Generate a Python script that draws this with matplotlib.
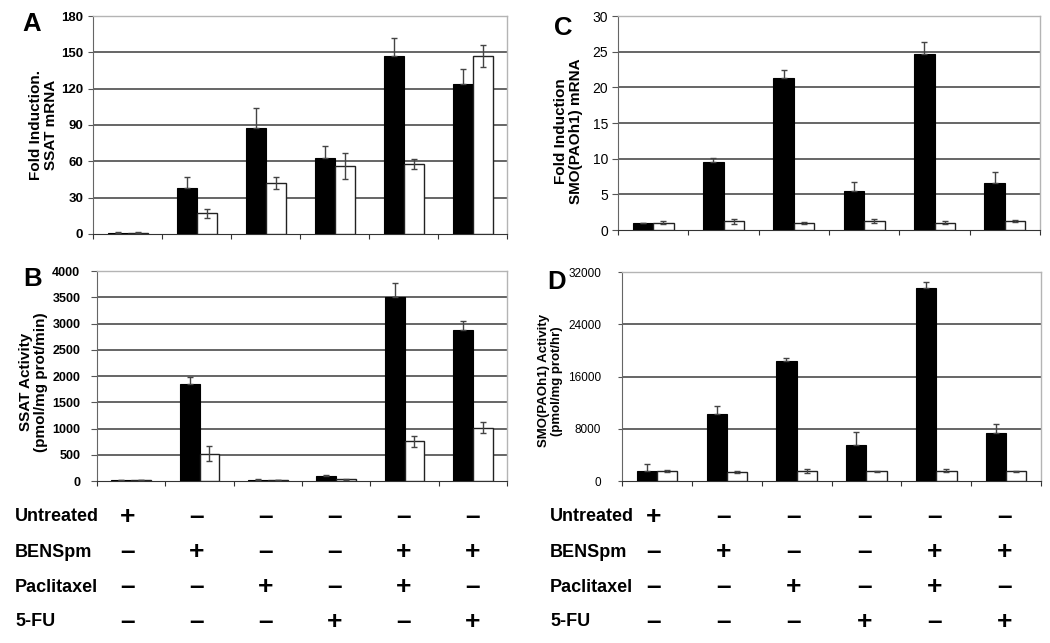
import numpy as np
import matplotlib
matplotlib.use('Agg')
import matplotlib.pyplot as plt
import matplotlib.transforms as mtransforms

plt.rcParams['font.family'] = ['Liberation Sans', 'DejaVu Sans']

# data (black = first series, white = second series)
A_black = [1, 38, 87.5, 62.7, 147, 123.8]
A_black_err = [0.3, 9, 16.3, 10, 14.6, 12.7]
A_white = [1, 17, 42, 56, 58, 147]
A_white_err = [0.3, 3.5, 4.8, 10.5, 4.3, 9]

B_black = [15, 1840, 25, 102, 3500, 2870]
B_black_err = [5, 146, 5, 10, 280, 185]
B_white = [20, 520, 20, 32, 756, 1016]
B_white_err = [5, 140, 5, 8, 100, 110]

C_black = [1.0, 9.47, 21.3, 5.41, 24.7, 6.58]
C_black_err = [0.05, 0.6, 1.15, 1.25, 1.7, 1.5]
C_white = [1.0, 1.26, 0.98, 1.3, 1.03, 1.3]
C_white_err = [0.2, 0.35, 0.15, 0.25, 0.25, 0.12]

D_black = [1480, 10260, 18380, 5560, 29550, 7300]
D_black_err = [1100, 1225, 510, 1890, 970, 1380]
D_white = [1580, 1430, 1580, 1480, 1580, 1480]
D_white_err = [150, 150, 300, 100, 200, 100]

treat_names = ['Untreated', 'BENSpm', 'Paclitaxel', '5-FU']
treat_signs = [['+', '-', '-', '-', '-', '-'],
               ['-', '+', '-', '-', '+', '+'],
               ['-', '-', '+', '-', '+', '-'],
               ['-', '-', '-', '+', '-', '+']]

A_ticks = [0, 30, 60, 90, 120, 150, 180]
B_ticks = [0, 500, 1000, 1500, 2000, 2500, 3000, 3500, 4000]
C_ticks = [0, 5, 10, 15, 20, 25, 30]
D_ticks = [0, 8000, 16000, 24000, 32000]

fig = plt.figure(figsize=(10.5, 6.43), dpi=100)

axA = fig.add_axes([0.0886, 0.6361, 0.3943, 0.339])
axB = fig.add_axes([0.0924, 0.2519, 0.3905, 0.3266])
axC = fig.add_axes([0.5886, 0.6423, 0.4019, 0.3328])
axD = fig.add_axes([0.5924, 0.2519, 0.3991, 0.325])

w = 0.29


def panel(ax, blk, blk_e, wht, wht_e, ticks, bold, tsize, tlen, tpad,
          ylab, lsize, lx, ly):
    x = np.arange(len(blk))
    ax.bar(x - w/2, blk, w, color='black', edgecolor='black', linewidth=0.8, zorder=3)
    ax.bar(x + w/2, wht, w, color='white', edgecolor='#222222', linewidth=1.0, zorder=3)
    ax.errorbar(x - w/2, blk, yerr=[np.zeros(len(blk)), blk_e], fmt='none',
                ecolor='#444444', elinewidth=1, capsize=2.5, capthick=1, zorder=4)
    ax.errorbar(x + w/2, wht, yerr=wht_e, fmt='none',
                ecolor='#444444', elinewidth=1, capsize=2.5, capthick=1, zorder=4)
    ax.set_xlim(-0.5, len(blk) - 0.5)
    ax.set_ylim(ticks[0], ticks[-1])
    ax.set_yticks(ticks)
    ax.set_yticklabels([str(t) for t in ticks], fontsize=tsize,
                       fontweight='bold' if bold else 'normal')
    for t in ticks[1:-1]:
        ax.axhline(t, color='#3c3c3c', lw=1.1, zorder=1)
    ax.set_xticks(np.arange(-0.5, len(blk)))
    ax.set_xticklabels([])
    ax.tick_params(axis='x', direction='out', length=3.5, color='#333333')
    ax.tick_params(axis='y', direction='out', length=tlen, color='#555555', pad=tpad)
    for s in ['top', 'right']:
        ax.spines[s].set_color('#b4b4b4')
        ax.spines[s].set_linewidth(1)
    ax.spines['left'].set_color('#666666')
    ax.spines['bottom'].set_color('#333333')
    ax.set_ylabel(ylab, fontsize=lsize, fontweight='bold', linespacing=1.1)
    ax.yaxis.set_label_coords(lx, ly)


panel(axA, A_black, A_black_err, A_white, A_white_err, A_ticks, True, 9.5, 3.5, 3.5,
      'Fold Induction.\nSSAT mRNA', 11, -0.085, 0.5)
panel(axB, B_black, B_black_err, B_white, B_white_err, B_ticks, True, 9, 4.5, 7.5,
      'SSAT Activity\n(pmol/mg prot/min)', 11, -0.119, 0.47)
panel(axC, C_black, C_black_err, C_white, C_white_err, C_ticks, False, 10, 4, 3.2,
      'Fold Induction\nSMO(PAOh1) mRNA', 11, -0.083, 0.46)
panel(axD, D_black, D_black_err, D_white, D_white_err, D_ticks, False, 8.5, 3, 12,
      'SMO(PAOh1) Activity\n(pmol/mg prot/hr)', 9.5, -0.140, 0.48)

for lbl, (px, py) in zip(['A', 'B', 'C', 'D'],
                         [(0.0305, 0.9627), (0.0314, 0.566), (0.536, 0.9565), (0.530, 0.5614)]):
    fig.text(px, py, lbl, fontsize=18.5, fontweight='bold', ha='center', va='center')

# treatment table under each column of panels
row_y = [0.196, 0.1415, 0.087, 0.0327]
for ax, name_x in [(axA, 0.0143), (axC, 0.5238)]:
    trans = mtransforms.blended_transform_factory(ax.transData, fig.transFigure)
    for name, signs, yy in zip(treat_names, treat_signs, row_y):
        fig.text(name_x, yy, name, fontsize=13, fontweight='bold', ha='left', va='center')
        for i, s in enumerate(signs):
            sym = '+' if s == '+' else '\u2013'
            fig.text(i, yy, sym, transform=trans, fontsize=19, fontweight='bold',
                     ha='center', va='center')

fig.savefig('out.png', dpi=100)
